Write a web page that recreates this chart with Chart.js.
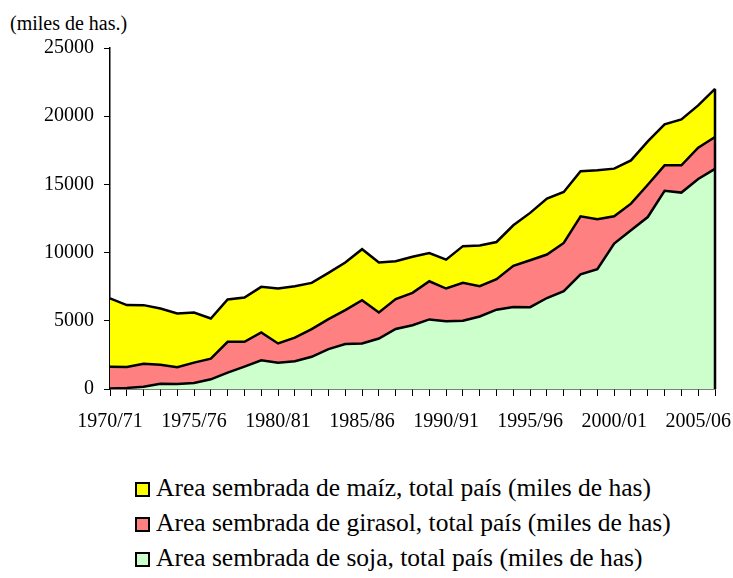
<!DOCTYPE html>
<html>
<head>
<meta charset="utf-8">
<script src="https://cdn.jsdelivr.net/npm/chart.js@4/dist/chart.umd.min.js"></script>
<style>
    body { margin: 0; background: #fff; }
    #wrap { position: relative; width: 733px; height: 578px; font-family: Times, "Times New Roman", "Liberation Serif", "DejaVu Serif", serif; }
    #chart { position: absolute; left: 0; top: 0; }
    #unit { position: absolute; left: 10px; top: 12px; font-size: 20px; color: #000; }
    #legend { position: absolute; left: 135px; top: 470px; font-size: 25.5px; color: #000; }
    .item { height: 35px; line-height: 35px; white-space: nowrap; }
    .box { display: inline-block; width: 11px; height: 11px; border: 2px solid #000; margin-right: 6px; vertical-align: -1px; }
</style>
</head>
<body>
<div id="wrap">
    <div id="unit">(miles de has.)</div>
    <canvas id="chart" width="733" height="440"></canvas>
    <div id="legend"></div>
</div>
<script>
const campaigns = ['1970/71', '1971/72', '1972/73', '1973/74', '1974/75', '1975/76', '1976/77', '1977/78',
    '1978/79', '1979/80', '1980/81', '1981/82', '1982/83', '1983/84', '1984/85', '1985/86', '1986/87',
    '1987/88', '1988/89', '1989/90', '1990/91', '1991/92', '1992/93', '1993/94', '1994/95', '1995/96',
    '1996/97', '1997/98', '1998/99', '1999/00', '2000/01', '2001/02', '2002/03', '2003/04', '2004/05',
    '2005/06', '2006/07'];

// miles de hectáreas
const soja = [38, 80, 169, 376, 370, 442, 710, 1200, 1640, 2100, 1925, 2040, 2362, 2920, 3300, 3340, 3700,
    4400, 4670, 5100, 4966, 5004, 5320, 5817, 6011, 6002, 6670, 7176, 8400, 8790, 10665, 11640, 12607,
    14527, 14400, 15393, 16141];
const girasol = [1600, 1530, 1680, 1400, 1220, 1490, 1510, 2260, 1820, 2050, 1415, 1730, 2030, 2200, 2480,
    3170, 1910, 2190, 2380, 2800, 2400, 2780, 2220, 2230, 3020, 3440, 3190, 3530, 4260, 3650, 2000, 1950,
    2370, 1870, 2000, 2300, 2330];
const maiz = [5000, 4540, 4300, 4120, 3950, 3680, 2950, 3100, 3250, 3340, 4030, 3770, 3390, 3390, 3490,
    3740, 3660, 2780, 2640, 2060, 2120, 2690, 2980, 2730, 2970, 3470, 4100, 3740, 3300, 3590, 3490, 3170,
    3170, 3000, 3360, 3100, 3540];

const yTicks = [0, 5000, 10000, 15000, 20000, 25000];

const font = { family: 'Times, "Times New Roman", "Liberation Serif", "DejaVu Serif", serif', size: 20 };

const serie = (label, data, color, fill) => ({
    label, data, fill,
    backgroundColor: color,
    borderColor: '#000',
    borderWidth: 2.5,
    borderJoinStyle: 'miter',
    pointRadius: 0,
    tension: 0
});

// closes the right edge of the stacked areas
const rightEdge = {
    id: 'rightEdge',
    afterDatasetsDraw(chart) {
        const { ctx, scales: { x, y } } = chart;
        const last = campaigns.length - 1;
        const top = soja[last] + girasol[last] + maiz[last];
        ctx.save();
        ctx.strokeStyle = '#000';
        ctx.lineWidth = 2.5;
        ctx.beginPath();
        ctx.moveTo(x.getPixelForValue(last), y.getPixelForValue(0));
        ctx.lineTo(x.getPixelForValue(last), y.getPixelForValue(top));
        ctx.stroke();
        ctx.restore();
    }
};

const chart = new Chart(document.getElementById('chart'), {
    type: 'line',
    data: {
        labels: campaigns,
        datasets: [
            serie('Area sembrada de soja, total país (miles de has)', soja, '#CCFFCC', 'origin'),
            serie('Area sembrada de girasol, total país (miles de has)', girasol, '#FF8080', '-1'),
            serie('Area sembrada de maíz, total país (miles de has)', maiz, '#FFFF00', '-1')
        ]
    },
    options: {
        responsive: false,
        animation: false,
        devicePixelRatio: 1,
        layout: { padding: { top: 48, right: 18, left: 0, bottom: 0 } },
        plugins: { legend: { display: false }, tooltip: { enabled: false } },
        scales: {
            x: {
                ticks: {
                    color: '#000', font, autoSkip: false, maxRotation: 0, padding: 14,
                    callback: (v, i) => (i % 5 === 0 ? campaigns[i] : '')
                },
                grid: { drawOnChartArea: false, drawTicks: true, tickLength: 7, color: '#000', lineWidth: 1 },
                border: { display: true, color: '#000', width: 1.5 },
                afterFit: s => { s.height = 51; }
            },
            y: {
                stacked: true,
                min: yTicks[0],
                max: yTicks[yTicks.length - 1],
                afterBuildTicks: s => { s.ticks = yTicks.map(v => ({ value: v })); },
                ticks: { color: '#000', font, padding: 10, callback: v => String(v) },
                grid: { drawOnChartArea: false, drawTicks: true, tickLength: 6, color: '#000', lineWidth: 1 },
                border: { display: true, color: '#000', width: 1.5 },
                afterFit: s => { s.width = 110; }
            }
        }
    },
    plugins: [rightEdge]
});

const legend = document.getElementById('legend');
chart.data.datasets.slice().reverse().forEach(ds => {
    const row = document.createElement('div');
    row.className = 'item';
    const box = document.createElement('span');
    box.className = 'box';
    box.style.background = ds.backgroundColor;
    row.appendChild(box);
    row.appendChild(document.createTextNode(ds.label));
    legend.appendChild(row);
});
</script>
</body>
</html>
